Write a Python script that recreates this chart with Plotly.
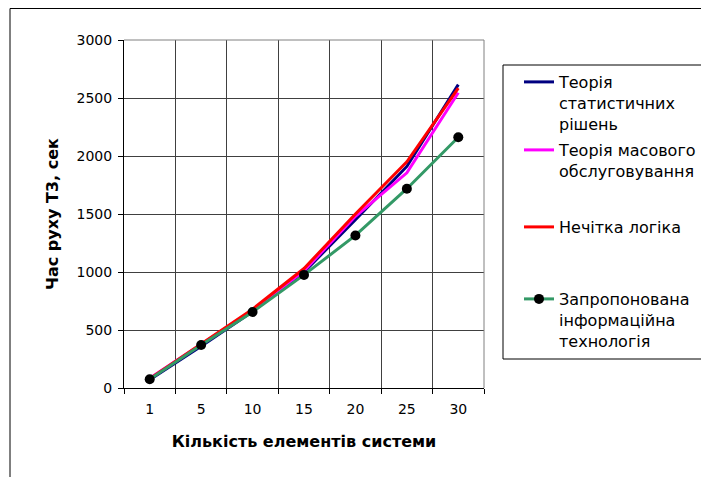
import plotly.graph_objects as go

categories = ["1", "5", "10", "15", "20", "25", "30"]
stat_decisions = [72, 360, 660, 1000, 1450, 1910, 2615]
queueing = [85, 378, 670, 1010, 1480, 1855, 2545]
fuzzy_logic = [80, 380, 680, 1030, 1500, 1950, 2585]
proposed = [75, 370, 655, 975, 1315, 1718, 2162]

names = [
    "Теорія<br>статистичних<br>рішень",
    "Теорія масового<br>обслуговування",
    "Нечітка логіка",
    "Запропонована<br>інформаційна<br>технологія",
]

FONT = "DejaVu Sans, Verdana, sans-serif"

# page offset (body margin) = 8px; all targets are screen pixels
OFF = 8
W, H = 709 - OFF, 477 - OFF
L, R, T, B = 124 - OFF, 484 - OFF, 40 - OFF, 388 - OFF
pw, ph = R - L, B - T


def px(xs):
    return (xs - OFF - L) / pw


def py(ys):
    return (B - (ys - OFF)) / ph


fig = go.Figure()
fig.add_trace(go.Scatter(x=categories, y=stat_decisions, mode="lines", name=names[0],
                         line=dict(color="#000080", width=3), legend="legend"))
fig.add_trace(go.Scatter(x=categories, y=queueing, mode="lines", name=names[1],
                         line=dict(color="#FF00FF", width=3), legend="legend2"))
fig.add_trace(go.Scatter(x=categories, y=fuzzy_logic, mode="lines", name=names[2],
                         line=dict(color="#FF0000", width=3), legend="legend3"))
fig.add_trace(go.Scatter(x=categories, y=proposed, mode="lines+markers", name=names[3],
                         line=dict(color="#339966", width=3),
                         marker=dict(color="black", size=10, symbol="circle"),
                         legend="legend4"))

leg_common = dict(font=dict(family=FONT, size=16, color="black"), bgcolor="rgba(0,0,0,0)",
                  borderwidth=0, xanchor="left", yanchor="top", valign="top",
                  tracegroupgap=0, itemwidth=30)
legend_tops = [65, 133, 210, 282]
legs = {}
for i, t in enumerate(legend_tops):
    key = "legend" if i == 0 else f"legend{i+1}"
    legs[key] = dict(leg_common, x=px(519), y=py(t))

fig.update_layout(
    width=W, height=H,
    margin=dict(l=L, r=W - R, t=T, b=H - B, autoexpand=False),
    plot_bgcolor="white", paper_bgcolor="white",
    font=dict(family=FONT, size=14, color="black"),
    showlegend=True,
    **legs,
    xaxis=dict(
        type="category", range=[-0.5, 6.5], tickson="boundaries",
        ticks="outside", ticklen=5, tickcolor="black", tickwidth=1,
        showline=True, linecolor="black", linewidth=1,
        showgrid=True, gridcolor="#404040", gridwidth=1,
        tickfont=dict(family=FONT, size=14),
        title=dict(text="<b>Кількість елементів системи</b>",
                   font=dict(family=FONT, size=16), standoff=20),
        ticklabelstandoff=8,
    ),
    yaxis=dict(
        range=[0, 3000], dtick=500, tick0=0,
        ticks="outside", ticklen=5, tickcolor="black", tickwidth=1,
        showline=True, linecolor="black", linewidth=1,
        showgrid=True, gridcolor="#404040", gridwidth=1, zeroline=False,
        tickfont=dict(family=FONT, size=14),
        title=dict(text="<b>Час руху Т3, сек</b>",
                   font=dict(family=FONT, size=16), standoff=13),
        ticklabelstandoff=3,
    ),
    shapes=[
        # outer chart frame
        dict(type="rect", xref="paper", yref="paper",
             x0=px(10), x1=px(760), y0=py(520), y1=py(8.5),
             line=dict(color="black", width=1), fillcolor="rgba(0,0,0,0)", layer="below"),
        # right and top plot border (gray)
        dict(type="line", xref="paper", yref="paper", x0=1, x1=1, y0=0, y1=1,
             line=dict(color="#808080", width=1)),
        dict(type="line", xref="paper", yref="paper", x0=0, x1=1, y0=1, y1=1,
             line=dict(color="#808080", width=1)),
        # legend box
        dict(type="rect", xref="paper", yref="paper",
             x0=px(503), x1=px(760), y0=py(359), y1=py(65),
             line=dict(color="black", width=1), fillcolor="rgba(0,0,0,0)"),
    ],
)

fig.write_html("out.html")
